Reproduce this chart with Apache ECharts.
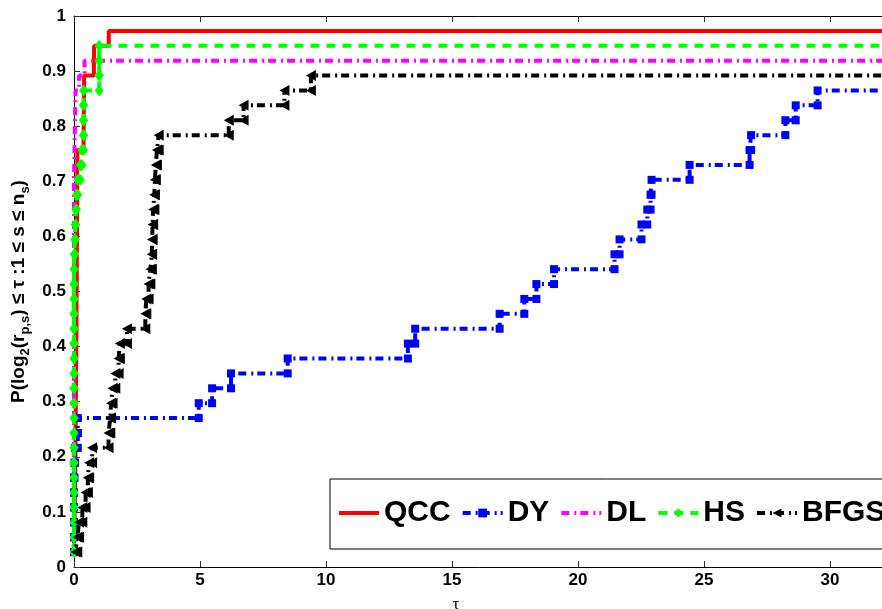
<!DOCTYPE html>
<html>
<head>
<meta charset="utf-8">
<script src="https://cdn.jsdelivr.net/npm/echarts@6/dist/echarts.min.js"></script>
<style>
  html, body { margin: 0; padding: 0; background: #fff; }
  #chart { width: 882px; height: 609px; }
</style>
</head>
<body>
<div id="chart"></div>
<script>
// Performance profile: sorted log2 performance ratios per solver (37 test problems).
const nProb = 37;
const solvers = ['QCC', 'DY', 'DL', 'HS', 'BFGS'];

const tauQCC = [0, 0, 0.02, 0.03, 0.04, 0.05, 0.05, 0.06, 0.06, 0.07, 0.07, 0.08, 0.08, 0.09,
  0.09, 0.1, 0.1, 0.1, 0.11, 0.11, 0.11, 0.12, 0.12, 0.12, 0.13, 0.13, 0.13, 0.14,
  0.38, 0.39, 0.39, 0.4, 0.4, 0.79, 0.8, 1.38];
const tauDY = [0, 0, 0, 0, 0, 0, 0.02, 0.04, 0.15, 0.15, 4.95, 5.48, 6.23, 8.48, 13.25, 13.54,
  16.89, 17.87, 18.35, 19.05, 21.45, 21.65, 22.52, 22.75, 22.88, 22.92, 24.43, 26.81,
  26.87, 28.23, 28.64, 29.51];
const tauDL = [0, 0, 0, 0, 0, 0, 0, 0, 0, 0, 0, 0, 0, 0, 0, 0, 0, 0, 0, 0, 0, 0, 0, 0, 0, 0,
  0.01, 0.02, 0.03, 0.04, 0.05, 0.06, 0.2, 0.42];
const tauHS = [0, 0, 0, 0, 0, 0, 0, 0, 0, 0, 0, 0, 0, 0, 0, 0, 0, 0, 0, 0,
  0.01, 0.03, 0.05, 0.07, 0.1, 0.15, 0.25, 0.32, 0.38, 0.38, 0.38, 0.38, 1.0, 1.0, 1.0];
const tauBFGS = [0.06, 0.13, 0.2, 0.33, 0.46, 0.55, 0.6, 0.72, 1.37, 1.44, 1.47, 1.53, 1.64,
  1.77, 1.82, 2.1, 2.83, 2.87, 2.96, 3.03, 3.09, 3.1, 3.12, 3.14, 3.19, 3.21, 3.25, 3.29,
  3.36, 6.14, 6.73, 8.35, 9.4];

// Failed problems are given ratio 2*max; the x-range is 1.1*max.
const maxTau = 29.51;
const tauFail = 2 * maxTau;
const tauAxisMax = 1.1 * maxTau;

const xTicks = [0, 5, 10, 15, 20, 25, 30];
const yTicks = [0, 0.1, 0.2, 0.3, 0.4, 0.5, 0.6, 0.7, 0.8, 0.9, 1];

// Staircase corners, as MATLAB's stairs() returns them.
function stairs(taus) {
  const pts = [];
  taus.forEach((t, i) => {
    if (i > 0) pts.push([t, i / nProb]);
    pts.push([t, (i + 1) / nProb]);
  });
  pts.push([tauFail, taus.length / nProb]);
  return pts;
}

const FONT = '"Liberation Sans", Arial, Helvetica, sans-serif';
const dashDot = [8, 5, 2, 4];

const chart = echarts.init(document.getElementById('chart'), null, { renderer: 'canvas' });

function lineSeries(name, taus, color, dash, symbol, symbolSize, rotate) {
  return {
    name: name,
    type: 'line',
    data: stairs(taus),
    clip: true,
    showAllSymbol: true,
    symbol: symbol,
    symbolSize: symbolSize,
    symbolRotate: rotate || 0,
    color: color,
    itemStyle: { color: color, borderWidth: 0 },
    lineStyle: { color: color, width: 4, type: dash, cap: 'butt' },
    animation: false
  };
}

chart.setOption({
  animation: false,
  backgroundColor: '#fff',
  grid: { left: 74, top: 16, bottom: 42, right: -10, containLabel: false, outerBoundsMode: 'none' },
  xAxis: [{
    type: 'value',
    min: 0,
    max: tauAxisMax,
    interval: 5,
    position: 'bottom',
    axisLine: { show: true, lineStyle: { color: '#000', width: 1 } },
    axisTick: { show: true, inside: true, length: 6, lineStyle: { color: '#333' } },
    axisLabel: {
      show: true, margin: 5, showMaxLabel: false,
      color: '#000', fontSize: 17, fontWeight: 'bold', fontFamily: FONT,
      formatter: v => (xTicks.indexOf(v) >= 0 ? String(v) : '')
    },
    splitLine: { show: false },
    name: 'τ',
    nameLocation: 'middle',
    nameGap: 29,
    nameTextStyle: { color: '#000', fontSize: 17, fontFamily: '"Liberation Serif", serif', padding: [0, 54, 0, 0] }
  }, {
    type: 'value',
    min: 0,
    max: tauAxisMax,
    interval: 5,
    position: 'top',
    axisLine: { show: true, onZero: false, lineStyle: { color: '#000', width: 1 } },
    axisTick: { show: true, inside: true, length: 6, lineStyle: { color: '#333' } },
    axisLabel: { show: false },
    splitLine: { show: false }
  }],
  yAxis: {
    type: 'value',
    min: 0,
    max: 1,
    interval: 0.1,
    axisLine: { show: true, lineStyle: { color: '#000', width: 1 } },
    axisTick: { show: true, inside: true, length: 6, lineStyle: { color: '#333' } },
    axisLabel: {
      margin: 8, color: '#000', fontSize: 17, fontWeight: 'bold', fontFamily: FONT,
      formatter: v => {
        const t = yTicks.find(y => Math.abs(y - v) < 1e-9);
        return t === undefined ? '' : String(t);
      }
    },
    splitLine: { show: false },
    name: '{t|P(log}{s|2}{t|(r}{s|p,s}{t|) ≤ τ :1 ≤ s ≤ n}{s|s}{t|)}',
    nameLocation: 'middle',
    nameGap: 42,
    nameTextStyle: {
      color: '#000',
      rich: {
        t: { fontSize: 19, fontWeight: 'bold', fontFamily: FONT, color: '#000' },
        s: { fontSize: 13, fontWeight: 'bold', fontFamily: FONT, color: '#000', padding: [13, 0, 0, 0] }
      }
    }
  },
  legend: {
    data: [
      { name: 'QCC', itemStyle: { opacity: 0 } },
      { name: 'DY' },
      { name: 'DL', itemStyle: { opacity: 0 } },
      { name: 'HS' },
      { name: 'BFGS' }
    ],
    left: 330,
    top: 479,
    width: 700,
    orient: 'horizontal',
    padding: [19, 6, 21, 7],
    itemGap: 10,
    itemWidth: 40,
    itemHeight: 11,
    lineStyle: { width: 4 },
    backgroundColor: '#fff',
    borderColor: '#000',
    borderWidth: 1,
    textStyle: { color: '#000', fontSize: 30, fontWeight: 'bold', fontFamily: FONT },
    selectedMode: false
  },
  series: [
    lineSeries('QCC', tauQCC, '#ff0000', 'solid', 'none', 0),
    lineSeries('DY', tauDY, '#0000ff', dashDot, 'rect', 8),
    lineSeries('DL', tauDL, '#ff00ff', dashDot, 'none', 0),
    lineSeries('HS', tauHS, '#00ff00', [9, 7], 'diamond', [9, 12]),
    lineSeries('BFGS', tauBFGS, '#000000', dashDot, 'triangle', [11, 10], 90)
  ]
});
</script>
</body>
</html>
